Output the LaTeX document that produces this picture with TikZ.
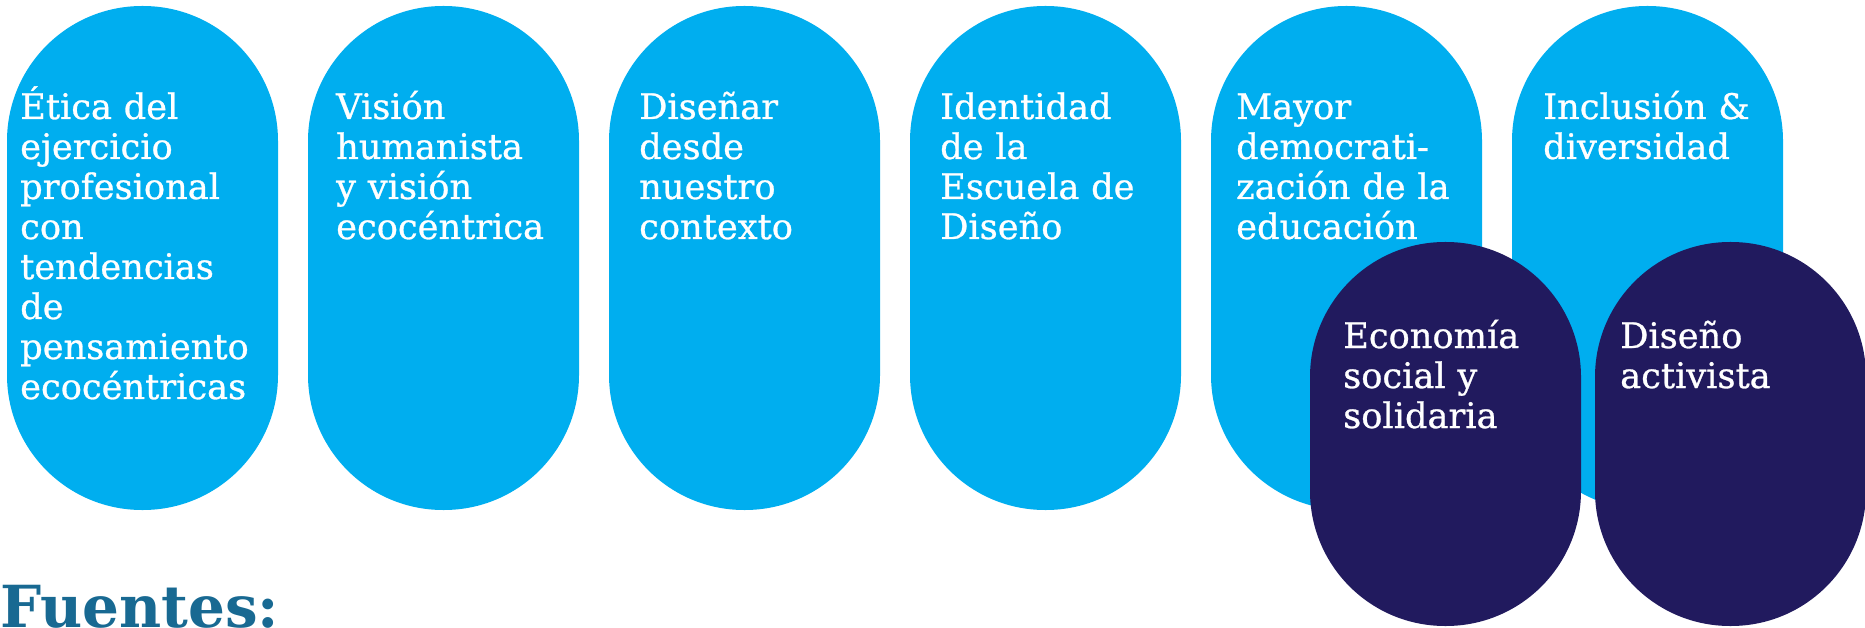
\documentclass[tikz,border=0pt]{standalone}
\usepackage{fontspec}
\setmainfont{DejaVu Serif}
\newfontfamily\pillfont{DejaVu Serif}[FakeBold=0.8]
\usetikzlibrary{positioning,calc}
\definecolor{skyblue}{RGB}{0,174,239}
\definecolor{navy}{RGB}{33,26,94}
\definecolor{srcblue}{RGB}{24,105,146}

\begin{document}
\begin{tikzpicture}[x=1pt, y=-1pt,
    pill/.style={rectangle, fill=skyblue, minimum width=271pt, minimum height=504pt, rounded corners=135pt, inner sep=0pt, outer sep=0pt},
    darkpill/.style={pill, fill=navy, minimum height=384pt},
    lbl/.style={anchor=base west, text=white, text width=250pt, align=left, inner sep=0pt, font=\pillfont\fontsize{35.2}{40}\selectfont}]
        \useasboundingbox (0,0) rectangle (1865,628);
        \clip (0,0) rectangle (1865,628);

        %light pills
        \node[pill] (p1) at (142.5,258) {};
        \node[pill, right=30pt of p1] (p2) {};
        \node[pill, right=30pt of p2] (p3) {};
        \node[pill, right=30pt of p3] (p4) {};
        \node[pill, right=30pt of p4] (p5) {};
        \node[pill, right=30pt of p5] (p6) {};

        \node[lbl] (t1) at ($(p1.north west)+(13,113)$) {Ética del\\ejercicio\\profesional\\con\\tendencias\\de\\pensamiento\\ecocéntricas};
        \node[lbl] (t2) at ($(p2.north west)+(28,113)$) {Visión\\humanista\\y visión\\ecocéntrica};
        \node[lbl] (t3) at ($(p3.north west)+(30,113)$) {Diseñar\\desde\\nuestro\\contexto};
        \node[lbl] (t4) at ($(p4.north west)+(30,113)$) {Identidad\\de la\\Escuela de\\Diseño};
        \node[lbl] (t5) at ($(p5.north west)+(25,113)$) {Mayor\\democrati-\\zación de la\\educación};
        \node[lbl] (t6) at ($(p6.north west)+(31,113)$) {Inclusión \&\\diversidad};

        %dark pills on top
        \node[darkpill] (d1) at (1445.5,434) {};
        \node[darkpill, right=14pt of d1] (d2) {};

        \node[lbl] (t7) at ($(d1.north west)+(33,106)$) {Economía\\social y\\solidaria};
        \node[lbl] (t8) at ($(d2.north west)+(25,106)$) {Diseño\\activista};

        \node[anchor=base west, inner sep=0pt, text=srcblue, font=\bfseries\fontsize{58}{60}\selectfont] (src) at (0,627) {Fuentes:};
    \end{tikzpicture}
\end{document}
